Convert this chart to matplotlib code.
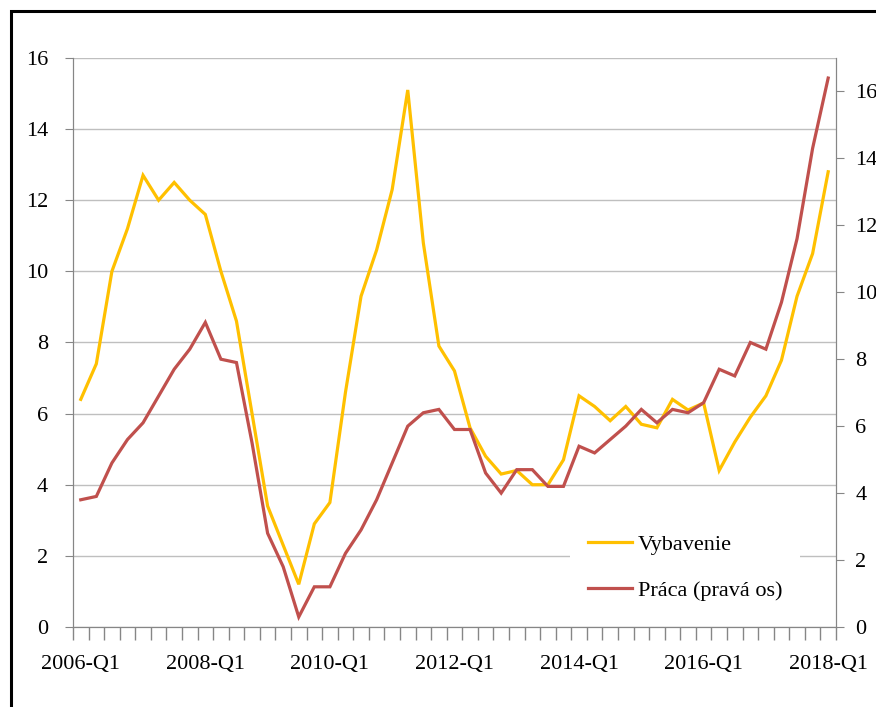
import numpy as np
import matplotlib
matplotlib.use("Agg")
from matplotlib import pyplot as plt
from matplotlib.patches import Rectangle

# quarterly data 2006-Q1 .. 2018-Q1
years = list(range(2006, 2019))
quarters = [f"{y}-Q{q}" for y in years for q in range(1, 5)][:49]

vybavenie = [6.4, 7.4, 10.0, 11.2, 12.7, 12.0, 12.5, 12.0,
             11.6, 10.0, 8.6, 6.0, 3.4, 2.3, 1.2, 2.9,
             3.5, 6.6, 9.3, 10.6, 12.3, 15.1, 10.8, 7.9,
             7.2, 5.6, 4.8, 4.3, 4.4, 4.0, 4.0, 4.7,
             6.5, 6.2, 5.8, 6.2, 5.7, 5.6, 6.4, 6.1,
             6.3, 4.4, 5.2, 5.9, 6.5, 7.5, 9.3, 10.5,
             12.8]

praca = [3.8, 3.9, 4.9, 5.6, 6.1, 6.9, 7.7, 8.3,
         9.1, 8.0, 7.9, 5.5, 2.8, 1.8, 0.3, 1.2,
         1.2, 2.2, 2.9, 3.8, 4.9, 6.0, 6.4, 6.5,
         5.9, 5.9, 4.6, 4.0, 4.7, 4.7, 4.2, 4.2,
         5.4, 5.2, 5.6, 6.0, 6.5, 6.1, 6.5, 6.4,
         6.7, 7.7, 7.5, 8.5, 8.3, 9.7, 11.6, 14.3,
         16.4]

plt.rcParams['font.family'] = ['Liberation Serif', 'DejaVu Serif']

fig = plt.figure(figsize=(8.76, 7.07), dpi=100)
ax = fig.add_axes([0.0833, 0.1132, 0.871, 0.8048])
ax2 = ax.twinx()

x = np.arange(len(quarters))
l1, = ax.plot(x, vybavenie, color="#FFC000", lw=2.3, solid_joinstyle="miter", zorder=3)
l2, = ax2.plot(x, praca, color="#C0504D", lw=2.3, solid_joinstyle="miter", zorder=3)

ax.set_xlim(-0.5, len(quarters) - 0.5)
ax.set_ylim(0, 16)
ax2.set_ylim(0, 17)
ax.set_yticks(range(0, 17, 2))
ax2.set_yticks(range(0, 17, 2))
ax.yaxis.grid(True, color="#BFBFBF", lw=1)
ax.set_axisbelow(True)

# category boundaries as tick marks, labels every 8 quarters
ax.set_xticks(np.arange(len(quarters) + 1) - 0.5)
ax.set_xticklabels([])
ax.set_xticks(x[::8], [quarters[i] for i in x[::8]], minor=True)
ax.tick_params(axis="x", which="major", length=9, color="#868686", width=1)
ax.tick_params(axis="x", which="minor", length=0, pad=20, labelsize=16)
ax.tick_params(axis="y", length=6, color="#868686", pad=12, labelsize=16)
ax2.tick_params(axis="y", length=6, color="#868686", pad=8, labelsize=16)

for a in (ax, ax2):
    for s in a.spines.values():
        s.set_color("#868686")
    a.spines["top"].set_visible(False)

leg = ax2.legend([l1, l2], ["Vybavenie", "Práca (pravá os)"], loc="lower left",
                 bbox_to_anchor=(0.637, -0.005), frameon=True, fontsize=16,
                 handlelength=2.0, labelspacing=1.15, handletextpad=0.25,
                 borderpad=0.8, fancybox=False)
leg.get_frame().set_facecolor("white")
leg.get_frame().set_edgecolor("none")
leg.get_frame().set_alpha(1)

# outer border, cropped at right and bottom
fig.patches.append(Rectangle((11 / 876, -0.1), 1.5, 1.1 - 11 / 707,
                             transform=fig.transFigure, fill=False,
                             edgecolor="black", lw=2.2))

fig.savefig("out.png", dpi=100)
